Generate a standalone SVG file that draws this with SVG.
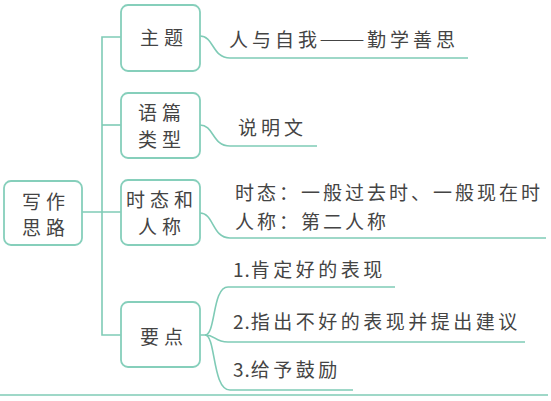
<svg xmlns="http://www.w3.org/2000/svg" width="551" height="401" viewBox="0 0 551 401">
<style>
.ln{fill:none;stroke:#7fcbb6;stroke-width:1.6}
.bx{fill:#fff;stroke:#86cfbb;stroke-width:1.8}
.t{font-family:"Noto Sans CJK SC","Noto Sans",sans-serif;font-size:19px;fill:#444;letter-spacing:4px}
.b{letter-spacing:5px}
.n{letter-spacing:1px}
.d{font-size:23px;letter-spacing:0;font-feature-settings:"fwid" 1}
</style>
<rect width="551" height="401" fill="#fff"/>
<g id="connectors">
<path class="ln" d="M121,37 H102 V335 H121"/>
<path class="ln" d="M102,125 H121"/>
<path class="ln" d="M82,212 H121"/>
<path class="ln" d="M200,36 C214,36 212,58 230,58 H468"/>
<path class="ln" d="M200,125 C214,125 212,146 230,146 H317"/>
<path class="ln" d="M200,213 C214,213 212,238 230,238 H546"/>
<path class="ln" d="M200,335 H205 C216,335 212,287 228,287 H395"/>
<path class="ln" d="M205,335 C216,335 214,342 228,342 H525"/>
<path class="ln" d="M205,335 C216,335 212,390 230,390 H353"/>
<path class="ln" d="M0,395 H548"/>
</g>
<g id="root">
<rect class="bx" x="4" y="181" width="78" height="64" rx="7"/>
<text class="t b" x="22" y="209">写作</text>
<text class="t b" x="22" y="235">思路</text>
</g>
<g id="n1">
<rect class="bx" x="121" y="5" width="79" height="66" rx="7"/>
<text class="t b" x="140" y="45">主题</text>
</g>
<g id="n2">
<rect class="bx" x="121" y="93" width="79" height="65" rx="7"/>
<text class="t b" x="138" y="120">语篇</text>
<text class="t b" x="138" y="147">类型</text>
</g>
<g id="n3">
<rect class="bx" x="121" y="180" width="79" height="65" rx="7"/>
<text class="t b" x="126" y="207">时态和</text>
<text class="t b" x="138" y="234">人称</text>
</g>
<g id="n4">
<rect class="bx" x="121" y="302" width="79" height="65" rx="7"/>
<text class="t b" x="140" y="344">要点</text>
</g>
<g id="leaves">
<text class="t" x="229" y="47">人与自我<tspan class="d" x="319" y="48.5">——</tspan><tspan x="367" y="47">勤学善思</tspan></text>
<text class="t" x="238" y="135">说明文</text>
<text class="t" x="235" y="200" style="letter-spacing:3px">时态：一般过去时、一般现在时</text>
<text class="t" x="235" y="229" style="letter-spacing:3px">人称：第二人称</text>
<text class="t" x="233" y="277" style="letter-spacing:3.5px"><tspan class="n">1.</tspan>肯定好的表现</text>
<text class="t" x="233" y="329" style="letter-spacing:3.5px"><tspan class="n">2.</tspan>指出不好的表现并提出建议</text>
<text class="t" x="233" y="377" style="letter-spacing:3.5px"><tspan class="n">3.</tspan>给予鼓励</text>
</g>
</svg>
